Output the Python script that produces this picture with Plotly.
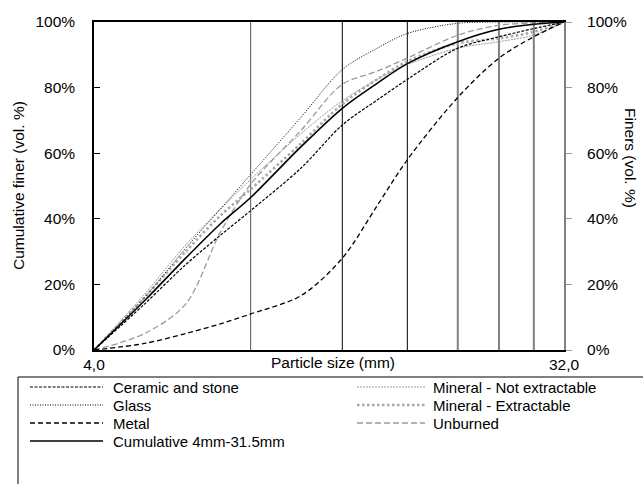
import plotly.graph_objects as go

# ---------------- data ----------------
sizes = [4, 5, 6, 7, 8, 10, 12, 14, 16, 20, 24, 28, 32]
ceramic_stone = [0, 14, 26, 35, 42.5, 55.5, 68.6, 76.2, 82.5, 92, 95.5, 98, 100]
glass = [0, 16, 31, 43, 53.5, 71, 85.5, 92, 96.5, 99.6, 100, 100, 100]
metal = [0, 2, 5, 8, 11, 16.6, 28, 44, 58, 77, 89, 95.5, 100]
cumulative = [0, 15, 28, 38.5, 46.5, 62, 73.7, 81.3, 87.3, 94, 97.8, 99.3, 100]
mineral_not_extr = [0, 17, 32, 43, 52, 66, 76, 82.5, 87, 92, 94, 96, 100]
mineral_extr = [0, 16, 30, 41, 49, 63, 75, 82.5, 88, 93.5, 95, 97, 100]
unburned = [0, 5, 14, 36, 50.5, 67, 81, 85, 89, 96, 99, 99.7, 100]

sieve_lines = [8, 12, 16, 20, 24, 28]
y_ticks = [0, 20, 40, 60, 80, 100]
y_ticklabels = ["0%", "20%", "40%", "60%", "80%", "100%"]
x_ticks = [4, 32]
x_ticklabels = ["4,0", "32,0"]

W, H = 643, 484
L, R, T, B = 94, 79, 22, 134
PW, PH = W - L - R, H - T - B
FONT = "Liberation Sans, Arial, sans-serif"
FS = 15.5
LFS = 14
GRAY = "#9a9a9a"

def px_x(p):
    return (p - L) / PW

def px_y(p):
    return (H - B - p) / PH

series = [
    ("Ceramic and stone", ceramic_stone, dict(color="black", width=1.2, dash="3px,1.5px")),
    ("Mineral - Not extractable", mineral_not_extr, dict(color=GRAY, width=1, dash="2px,1px")),
    ("Glass", glass, dict(color="black", width=1, dash="1px,1.5px")),
    ("Mineral - Extractable", mineral_extr, dict(color="#a8a8a8", width=2.6, dash="2.5px,2.5px")),
    ("Metal", metal, dict(color="black", width=1.3, dash="5px,3px")),
    ("Unburned", unburned, dict(color=GRAY, width=1.3, dash="6px,3px")),
    ("Cumulative 4mm-31.5mm", cumulative, dict(color="black", width=1.6)),
]

fig = go.Figure()
order = [1, 3, 5, 0, 2, 4, 6]
for i in order:
    name, vals, ln = series[i]
    fig.add_trace(go.Scatter(x=sizes, y=vals, mode="lines", name=name,
                             line=dict(shape="spline", smoothing=0.9, **ln),
                             showlegend=False, hoverinfo="skip"))
fig.add_trace(go.Scatter(x=[4], y=[0], yaxis="y2", mode="lines", showlegend=False,
                         line=dict(width=0), hoverinfo="skip"))

shapes = []
line_styles = {8: ("#555555", 1), 12: ("black", 1), 16: ("black", 1),
               20: ("#808080", 2), 24: ("#808080", 2), 28: ("#808080", 2)}
for v in sieve_lines:
    c, w = line_styles[v]
    shapes.append(dict(type="line", xref="x", yref="paper", x0=v, x1=v, y0=0, y1=1,
                       line=dict(color=c, width=w), layer="below"))

leg_box = dict(type="rect", xref="paper", yref="paper",
               x0=px_x(18), x1=px_x(660), y0=px_y(377), y1=px_y(500),
               line=dict(color="black", width=1), fillcolor="rgba(0,0,0,0)")
shapes.append(leg_box)
annotations = []
rows = [387, 405, 423, 441]
cols = [(30, 103, 111), (357, 425, 431)]
for k, (name, vals, ln) in enumerate(series):
    r = rows[k // 2]
    c0, c1, tx = cols[k % 2]
    shapes.append(dict(type="line", xref="paper", yref="paper",
                       x0=px_x(c0), x1=px_x(c1), y0=px_y(r), y1=px_y(r),
                       line=dict(color=ln["color"], width=ln["width"], dash=ln.get("dash", "solid"))))
    annotations.append(dict(text=name, xref="paper", yref="paper", x=px_x(tx), y=px_y(r),
                            xanchor="left", yanchor="middle", showarrow=False,
                            font=dict(family=FONT, size=LFS + 1, color="black")))

annotations.append(dict(text="Particle size (mm)", xref="paper", yref="paper",
                        x=px_x(333), y=px_y(362), xanchor="center", yanchor="middle",
                        showarrow=False, font=dict(family=FONT, size=FS, color="black")))
annotations.append(dict(text="Cumulative finer (vol. %)", xref="paper", yref="paper",
                        x=px_x(18), y=px_y(186), xanchor="center", yanchor="middle",
                        textangle=-90, showarrow=False,
                        font=dict(family=FONT, size=FS, color="black")))
annotations.append(dict(text="Finers (vol. %)", xref="paper", yref="paper",
                        x=px_x(631), y=px_y(158), xanchor="center", yanchor="middle",
                        textangle=90, showarrow=False,
                        font=dict(family=FONT, size=FS, color="black")))

fig.update_layout(
    width=W, height=H,
    margin=dict(l=L, r=R, t=T, b=B),
    plot_bgcolor="white", paper_bgcolor="white",
    font=dict(family=FONT, size=FS, color="black"),
    showlegend=False,
    xaxis=dict(type="log", range=[0.60206, 1.50515], showgrid=False, zeroline=False,
               tickvals=x_ticks, ticktext=x_ticklabels, ticks="",
               showline=True, linecolor="black", linewidth=1.5, mirror=True),
    yaxis=dict(range=[0, 100], tickvals=y_ticks, ticktext=y_ticklabels, showgrid=False,
               zeroline=False, ticks="inside", ticklen=6, tickcolor="black",
               showline=True, linecolor="black", linewidth=1.5, ticklabelstandoff=14),
    yaxis2=dict(range=[0, 100], tickvals=y_ticks, ticktext=y_ticklabels, overlaying="y",
                side="right", showgrid=False, zeroline=False, ticks="outside", ticklen=6,
                tickcolor=GRAY, showline=True, linecolor="#808080", linewidth=2,
                ticklabelstandoff=12),
    shapes=shapes,
    annotations=annotations,
)

fig.write_html("out.html")
